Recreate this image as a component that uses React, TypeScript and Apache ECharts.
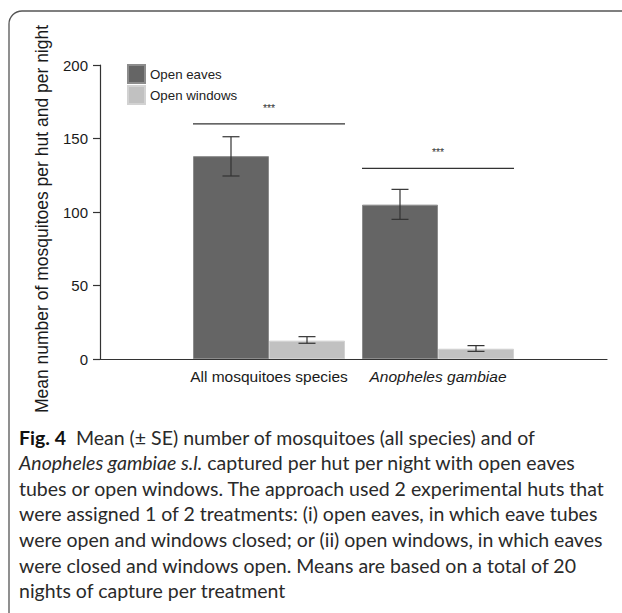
import React, { useEffect, useRef } from "react";
import * as echarts from "echarts";

const categories = ["All mosquitoes species", "Anopheles gambiae"];
const seriesNames = ["Open eaves", "Open windows"];
const eavesMeans = [138, 105];
const windowsMeans = [12.5, 7];
const eavesLow = [124.5, 95];
const eavesHigh = [151.2, 115.4];
const windowsLow = [10.7, 5.2];
const windowsHigh = [15.2, 9.1];
const sigLevels = [160, 129.7];
const sigLabels = ["***", "***"];
const yTicks = [0, 50, 100, 150, 200];

const captionLines = [
  "{b|Fig. 4}  Mean (± SE) number of mosquitoes (all species) and of",
  "{i|Anopheles gambiae s.l.} captured per hut per night with open eaves",
  "tubes or open windows. The approach used 2 experimental huts that",
  "were assigned 1 of 2 treatments: (i) open eaves, in which eave tubes",
  "were open and windows closed; or (ii) open windows, in which eaves",
  "were closed and windows open. Means are based on a total of 20",
  "nights of capture per treatment",
];

const BAR_W = 76;
const CAP_W = 17;
const FONT = "'Liberation Sans', Arial, sans-serif";
const CAP_FONT = "Lato, 'Open Sans', sans-serif";
const CAP_SIZE = 19.5;

export default function App() {
  const ref = useRef<HTMLDivElement>(null);
  useEffect(() => {
    document.body.style.margin = "0";
    if (!ref.current) return;
    const chart = echarts.init(ref.current, null, { renderer: "svg" });
    const axisCats = ["", ...categories, ""];
    const idx = (i: number) => i + 1;

    const errSeries = (low: number[], high: number[], offset: number) => ({
      type: "custom",
      z: 5,
      data: low.map((l, i) => [idx(i), l, high[i]]),
      renderItem: (params: any, api: any) => {
        const x = api.coord([api.value(0), 0])[0] + offset;
        const yl = api.coord([api.value(0), api.value(1)])[1];
        const yh = api.coord([api.value(0), api.value(2)])[1];
        const st = { stroke: "#333", lineWidth: 1.2 };
        return {
          type: "group",
          children: [
            { type: "line", shape: { x1: x, y1: yl, x2: x, y2: yh }, style: st },
            { type: "line", shape: { x1: x - CAP_W / 2, y1: yl, x2: x + CAP_W / 2, y2: yl }, style: st },
            { type: "line", shape: { x1: x - CAP_W / 2, y1: yh, x2: x + CAP_W / 2, y2: yh }, style: st },
          ],
        };
      },
    });

    const graphics: any[] = [
      {
        type: "rect",
        shape: { x: 9, y: 11, width: 800, height: 800, r: [13, 0, 0, 0] },
        style: { fill: "none", stroke: "#555", lineWidth: 1.3 },
        silent: true,
      },
      {
        type: "text",
        x: 42,
        y: 219,
        rotation: Math.PI / 2,
        style: {
          text: "Mean number of mosquitoes per hut and per night",
          fontFamily: FONT,
          fontSize: 17.5,
          fill: "#1a1a1a",
          align: "center",
          verticalAlign: "middle",
        },
      },
      ...captionLines.map((t, i) => ({
        type: "text",
        x: 19,
        y: 437 + i * 25.6,
        style: {
          text: t,
          fontFamily: CAP_FONT,
          fontSize: CAP_SIZE,
          fill: "#2a2a2a",
          align: "left",
          verticalAlign: "middle",
          rich: {
            b: { fontFamily: CAP_FONT, fontSize: CAP_SIZE, fontWeight: "bold", fill: "#111" },
            i: { fontFamily: CAP_FONT, fontSize: CAP_SIZE, fontStyle: "italic", fill: "#2a2a2a" },
          },
        },
      })),
    ];

    chart.setOption({
      animation: false,
      backgroundColor: "#fff",
      grid: { left: 100, right: 15, top: 65, bottom: 254, containLabel: false },
      legend: {
        data: seriesNames,
        orient: "vertical",
        left: 127,
        top: 64,
        itemWidth: 17,
        itemHeight: 18,
        itemGap: 1,
        icon: "rect",
        padding: 0,
        textStyle: { fontFamily: FONT, fontSize: 13.3, color: "#222" },
      },
      xAxis: {
        type: "category",
        data: axisCats,
        boundaryGap: false,
        axisLine: { lineStyle: { color: "#333", width: 1.2 } },
        axisTick: { show: false },
        axisLabel: {
          interval: 0,
          margin: 9,
          fontFamily: FONT,
          fontSize: 15.5,
          color: "#1a1a1a",
          formatter: (v: string) => (v === categories[1] ? `{i|${v}}` : v),
          rich: { i: { fontFamily: FONT, fontSize: 15.5, fontStyle: "italic", color: "#1a1a1a" } },
        },
      },
      yAxis: {
        type: "value",
        min: yTicks[0],
        max: yTicks[yTicks.length - 1],
        interval: 50,
        axisLine: { show: true, lineStyle: { color: "#333", width: 1.2 } },
        axisTick: { show: true, length: 7, lineStyle: { color: "#333", width: 1.2 } },
        axisLabel: { margin: 12, fontFamily: FONT, fontSize: 15, color: "#1a1a1a" },
        splitLine: { show: false },
      },
      series: [
        {
          name: seriesNames[0],
          type: "bar",
          barWidth: BAR_W,
          barGap: "0%",
          data: eavesMeans.map((v, i) => [idx(i), v]),
          itemStyle: { color: "#656565", borderColor: "#8c8c8c", borderWidth: 1 },
        },
        {
          name: seriesNames[1],
          type: "bar",
          barWidth: BAR_W,
          barGap: "0%",
          data: windowsMeans.map((v, i) => [idx(i), v]),
          itemStyle: { color: "#c1c1c1", borderColor: "#d2d2d2", borderWidth: 1 },
        },
        errSeries(eavesLow, eavesHigh, -BAR_W / 2),
        errSeries(windowsLow, windowsHigh, BAR_W / 2),
        {
          type: "custom",
          z: 5,
          data: sigLevels.map((v, i) => [idx(i), v]),
          renderItem: (params: any, api: any) => {
            const p = api.coord([api.value(0), api.value(1)]);
            return {
              type: "group",
              children: [
                {
                  type: "line",
                  shape: { x1: p[0] - BAR_W, y1: p[1], x2: p[0] + BAR_W, y2: p[1] },
                  style: { stroke: "#333", lineWidth: 1.3 },
                },
                {
                  type: "text",
                  x: p[0],
                  y: p[1] - 16,
                  style: {
                    text: sigLabels[params.dataIndex],
                    fontFamily: FONT,
                    fontSize: 10.5,
                    fill: "#333",
                    align: "center",
                    verticalAlign: "middle",
                  },
                },
              ],
            };
          },
        },
      ],
      graphic: graphics,
    });
    return () => chart.dispose();
  }, []);
  return <div ref={ref} style={{ width: 622, height: 613 }} />;
}
